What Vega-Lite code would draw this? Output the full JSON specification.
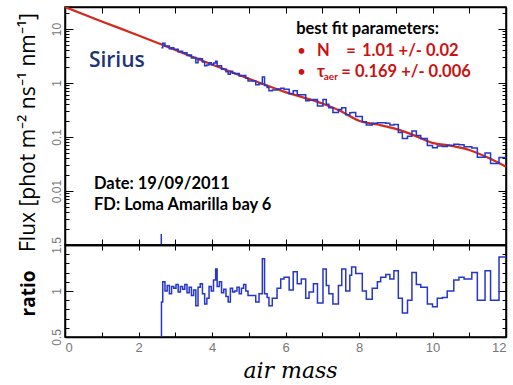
{
  "$schema": "https://vega.github.io/schema/vega-lite/v6.json",
  "padding": {"left": 16, "top": 5, "right": 4, "bottom": 2},
  "spacing": 0,
  "bounds": "flush",
  "config": {
    "view": {"stroke": "black", "strokeWidth": 1.5},
    "axis": {"domainColor": "black", "domainWidth": 1.5, "tickColor": "black", "tickWidth": 1, "grid": false, "labelColor": "#777777", "labelFont": "Liberation Sans", "titleColor": "black"}
  },
  "datasets": {
    "fit": [
      {"am": 0, "flux": 25.5}, {"am": 1, "flux": 13.8}, {"am": 2, "flux": 7.59}, {"am": 3, "flux": 4.07},
      {"am": 4, "flux": 2.19}, {"am": 5, "flux": 1.2}, {"am": 6, "flux": 0.676}, {"am": 7, "flux": 0.417},
      {"am": 7.5, "flux": 0.302}, {"am": 8, "flux": 0.2}, {"am": 8.5, "flux": 0.17}, {"am": 9, "flux": 0.141},
      {"am": 9.5, "flux": 0.107}, {"am": 10, "flux": 0.0776}, {"am": 10.5, "flux": 0.0692}, {"am": 11, "flux": 0.0575},
      {"am": 11.5, "flux": 0.0417}, {"am": 12, "flux": 0.0282}
    ],
    "obs": [
      {"am": 2.62, "flux": null, "ratio": 0.45},
      {"am": 2.625, "flux": 4.48, "ratio": 0.88},
      {"am": 2.66, "flux": 5.43, "ratio": 1.10},
      {"am": 2.72, "flux": 4.76, "ratio": 1.00},
      {"am": 2.78, "flux": 4.85, "ratio": 1.06},
      {"am": 2.84, "flux": 4.29, "ratio": 0.97},
      {"am": 2.90, "flux": 4.47, "ratio": 1.05},
      {"am": 2.96, "flux": 4.23, "ratio": 1.03},
      {"am": 3.02, "flux": 4.22, "ratio": 1.07},
      {"am": 3.08, "flux": 3.77, "ratio": 0.99},
      {"am": 3.14, "flux": 3.85, "ratio": 1.05},
      {"am": 3.20, "flux": 3.61, "ratio": 1.02},
      {"am": 3.26, "flux": 3.64, "ratio": 1.07},
      {"am": 3.32, "flux": 3.21, "ratio": 0.98},
      {"am": 3.38, "flux": 3.28, "ratio": 1.04},
      {"am": 3.44, "flux": 2.89, "ratio": 0.95},
      {"am": 3.50, "flux": 2.96, "ratio": 1.01},
      {"am": 3.56, "flux": 2.37, "ratio": 0.84},
      {"am": 3.62, "flux": 2.83, "ratio": 1.04},
      {"am": 3.68, "flux": 2.82, "ratio": 1.08},
      {"am": 3.74, "flux": 2.45, "ratio": 0.97},
      {"am": 3.80, "flux": 2.09, "ratio": 0.86},
      {"am": 3.86, "flux": 2.16, "ratio": 0.92},
      {"am": 3.92, "flux": 2.37, "ratio": 1.05},
      {"am": 3.98, "flux": 2.17, "ratio": 1.00},
      {"am": 4.04, "flux": 2.35, "ratio": 1.12},
      {"am": 4.10, "flux": 2.52, "ratio": 1.24},
      {"am": 4.14, "flux": 2.07, "ratio": 1.05},
      {"am": 4.20, "flux": 2.09, "ratio": 1.10},
      {"am": 4.26, "flux": 1.80, "ratio": 0.98},
      {"am": 4.32, "flux": 1.81, "ratio": 1.02},
      {"am": 4.38, "flux": 1.61, "ratio": 0.94},
      {"am": 4.44, "flux": 1.45, "ratio": 0.88},
      {"am": 4.50, "flux": 1.64, "ratio": 1.03},
      {"am": 4.56, "flux": 1.52, "ratio": 0.99},
      {"am": 4.62, "flux": 1.48, "ratio": 1.00},
      {"am": 4.68, "flux": 1.49, "ratio": 1.04},
      {"am": 4.74, "flux": 1.34, "ratio": 0.97},
      {"am": 4.80, "flux": 1.37, "ratio": 1.03},
      {"am": 4.86, "flux": 1.37, "ratio": 1.07},
      {"am": 4.92, "flux": 1.24, "ratio": 1.00},
      {"am": 4.98, "flux": 1.089, "ratio": 0.95},
      {"am": 5.19, "flux": 0.923, "ratio": 0.88},
      {"am": 5.28, "flux": 0.968, "ratio": 0.97},
      {"am": 5.37, "flux": 1.288, "ratio": 1.35},
      {"am": 5.43, "flux": 0.893, "ratio": 0.97},
      {"am": 5.50, "flux": 0.826, "ratio": 0.93},
      {"am": 5.55, "flux": 0.716, "ratio": 0.84},
      {"am": 5.64, "flux": 0.738, "ratio": 0.92},
      {"am": 5.77, "flux": 0.773, "ratio": 1.03},
      {"am": 5.87, "flux": 0.802, "ratio": 1.13},
      {"am": 5.96, "flux": 0.767, "ratio": 1.15},
      {"am": 6.10, "flux": 0.632, "ratio": 1.01},
      {"am": 6.21, "flux": 0.719, "ratio": 1.21},
      {"am": 6.32, "flux": 0.608, "ratio": 1.08},
      {"am": 6.43, "flux": 0.603, "ratio": 1.13},
      {"am": 6.55, "flux": 0.467, "ratio": 0.92},
      {"am": 6.64, "flux": 0.478, "ratio": 0.99},
      {"am": 6.76, "flux": 0.492, "ratio": 1.08},
      {"am": 6.87, "flux": 0.373, "ratio": 0.87},
      {"am": 7.02, "flux": 0.495, "ratio": 1.24},
      {"am": 7.11, "flux": 0.402, "ratio": 1.06},
      {"am": 7.18, "flux": 0.348, "ratio": 0.97},
      {"am": 7.29, "flux": 0.283, "ratio": 0.86},
      {"am": 7.44, "flux": 0.323, "ratio": 1.06},
      {"am": 7.53, "flux": 0.348, "ratio": 1.24},
      {"am": 7.64, "flux": 0.257, "ratio": 1.00},
      {"am": 7.75, "flux": 0.281, "ratio": 1.17},
      {"am": 7.80, "flux": 0.283, "ratio": 1.26},
      {"am": 7.91, "flux": 0.239, "ratio": 1.19},
      {"am": 8.09, "flux": 0.191, "ratio": 1.00},
      {"am": 8.20, "flux": 0.166, "ratio": 0.91},
      {"am": 8.36, "flux": 0.179, "ratio": 1.03},
      {"am": 8.50, "flux": 0.184, "ratio": 1.10},
      {"am": 8.59, "flux": 0.184, "ratio": 1.15},
      {"am": 8.73, "flux": 0.180, "ratio": 1.18},
      {"am": 8.84, "flux": 0.166, "ratio": 1.13},
      {"am": 8.95, "flux": 0.171, "ratio": 1.22},
      {"am": 9.07, "flux": 0.121, "ratio": 0.92},
      {"am": 9.18, "flux": 0.0935, "ratio": 0.76},
      {"am": 9.32, "flux": 0.103, "ratio": 0.90},
      {"am": 9.44, "flux": 0.129, "ratio": 1.20},
      {"am": 9.56, "flux": 0.106, "ratio": 1.07},
      {"am": 9.68, "flux": 0.0935, "ratio": 1.04},
      {"am": 9.86, "flux": 0.0698, "ratio": 0.86},
      {"am": 10.0, "flux": 0.0634, "ratio": 0.83},
      {"am": 10.13, "flux": 0.0682, "ratio": 0.92},
      {"am": 10.27, "flux": 0.0667, "ratio": 0.93},
      {"am": 10.40, "flux": 0.0693, "ratio": 1.00},
      {"am": 10.58, "flux": 0.0733, "ratio": 1.12},
      {"am": 10.72, "flux": 0.0716, "ratio": 1.15},
      {"am": 10.86, "flux": 0.0659, "ratio": 1.13},
      {"am": 11.07, "flux": 0.0628, "ratio": 1.20},
      {"am": 11.22, "flux": 0.0420, "ratio": 0.90},
      {"am": 11.43, "flux": 0.0506, "ratio": 1.22},
      {"am": 11.58, "flux": 0.0322, "ratio": 0.90},
      {"am": 11.81, "flux": 0.0416, "ratio": 1.37},
      {"am": 12.0, "flux": 0.0416, "ratio": 1.37}
    ],
    "drop": [{"am": 2.62, "lo": 0.001, "hi": 0.0016}],
    "sirius": [{"am": 0.65, "flux": 2.55, "text": "Sirius"}],
    "notes_black": [
      {"am": 6.29, "flux": 10.0, "text": "best fit parameters:"},
      {"am": 0.79, "flux": 0.0135, "text": "Date: 19/09/2011"},
      {"am": 0.79, "flux": 0.0055, "text": "FD: Loma Amarilla bay 6"}
    ],
    "notes_red": [
      {"am": 6.86, "flux": 3.91, "text": "N"},
      {"am": 7.65, "flux": 3.91, "text": "="},
      {"am": 8.08, "flux": 3.91, "text": "1.01 +/- 0.02"},
      {"am": 6.86, "flux": 1.6, "text": "τ"},
      {"am": 7.52, "flux": 1.6, "text": "="},
      {"am": 7.89, "flux": 1.6, "text": "0.169 +/- 0.006"}
    ],
    "bullets": [
      {"am": 6.33, "flux": 3.91, "text": "•"},
      {"am": 6.33, "flux": 1.6, "text": "•"}
    ],
    "notes_sub": [{"am": 7.04, "flux": 1.29, "text": "aer"}]
  },
  "vconcat": [
    {
      "width": 441,
      "height": 238,
      "resolve": {"axis": {"x": "independent", "y": "independent"}},
      "layer": [
        {
          "data": {"name": "fit"},
          "mark": {"type": "line", "color": "#d42a1e", "strokeWidth": 2.2, "interpolate": "monotone", "clip": true},
          "encoding": {
            "x": {"field": "am", "type": "quantitative", "scale": {"domain": [0, 12], "nice": false},
              "axis": {"orient": "bottom", "values": [0,1,2,3,4,5,6,7,8,9,10,11,12], "labels": false, "tickSize": -6, "title": null}},
            "y": {"field": "flux", "type": "quantitative", "scale": {"type": "log", "domain": [0.001, 25.5], "nice": false},
              "axis": {"orient": "left",
                "values": [0.001,0.002,0.003,0.004,0.005,0.006,0.007,0.008,0.009,0.01,0.02,0.03,0.04,0.05,0.06,0.07,0.08,0.09,0.1,0.2,0.3,0.4,0.5,0.6,0.7,0.8,0.9,1,2,3,4,5,6,7,8,9,10,20],
                "labelExpr": "datum.value == 10 ? '10' : datum.value == 1 ? '1' : datum.value == 0.1 ? '0.1' : datum.value == 0.01 ? '0.01' : ''",
                "tickSize": {"condition": {"test": "indexof([0.001,0.01,0.1,1,10], datum.value) >= 0", "value": -8}, "value": -4},
                "labelAngle": -90, "labelAlign": "center", "labelBaseline": "bottom", "labelPadding": 10, "labelFontSize": 12,
                "title": "Flux [phot m⁻² ns⁻¹ nm⁻¹]", "titleFont": "Open Sans", "titleFontSize": 21, "titleFontWeight": 500,
                "titleX": -37, "titleY": 125, "titleBaseline": "middle"}}
          }
        },
        {
          "data": {"name": "obs"},
          "mark": {"type": "line", "color": "#2536c8", "strokeWidth": 1.5, "interpolate": "step-after", "clip": true},
          "encoding": {
            "x": {"field": "am", "type": "quantitative", "axis": {"orient": "top", "values": [0,1,2,3,4,5,6,7,8,9,10,11,12], "labels": false, "tickSize": -6, "title": null}},
            "y": {"field": "flux", "type": "quantitative",
              "axis": {"orient": "right",
                "values": [0.001,0.002,0.003,0.004,0.005,0.006,0.007,0.008,0.009,0.01,0.02,0.03,0.04,0.05,0.06,0.07,0.08,0.09,0.1,0.2,0.3,0.4,0.5,0.6,0.7,0.8,0.9,1,2,3,4,5,6,7,8,9,10,20],
                "labels": false, "title": null,
                "tickSize": {"condition": {"test": "indexof([0.001,0.01,0.1,1,10], datum.value) >= 0", "value": -8}, "value": -4}}}
          }
        },
        {
          "data": {"name": "drop"},
          "mark": {"type": "rule", "color": "#2536c8", "strokeWidth": 1.5},
          "encoding": {
            "x": {"field": "am", "type": "quantitative", "axis": null},
            "y": {"field": "lo", "type": "quantitative", "axis": null},
            "y2": {"field": "hi"}
          }
        },
        {
          "data": {"name": "sirius"},
          "mark": {"type": "text", "align": "left", "baseline": "middle", "font": "Open Sans", "fontSize": 21, "fontWeight": 600, "color": "#1c3578"},
          "encoding": {
            "x": {"field": "am", "type": "quantitative", "axis": null},
            "y": {"field": "flux", "type": "quantitative", "axis": null},
            "text": {"field": "text"}
          }
        },
        {
          "data": {"name": "notes_black"},
          "mark": {"type": "text", "align": "left", "baseline": "middle", "font": "Lato", "fontSize": 16.5, "fontWeight": "bold", "color": "black"},
          "encoding": {
            "x": {"field": "am", "type": "quantitative", "axis": null},
            "y": {"field": "flux", "type": "quantitative", "axis": null},
            "text": {"field": "text"}
          }
        },
        {
          "data": {"name": "notes_red"},
          "mark": {"type": "text", "align": "left", "baseline": "middle", "font": "Lato", "fontSize": 16.5, "fontWeight": "bold", "color": "#cc1111"},
          "encoding": {
            "x": {"field": "am", "type": "quantitative", "axis": null},
            "y": {"field": "flux", "type": "quantitative", "axis": null},
            "text": {"field": "text"}
          }
        },
        {
          "data": {"name": "bullets"},
          "mark": {"type": "text", "align": "left", "baseline": "middle", "font": "Lato", "fontSize": 13, "fontWeight": "bold", "color": "#cc1111"},
          "encoding": {
            "x": {"field": "am", "type": "quantitative", "axis": null},
            "y": {"field": "flux", "type": "quantitative", "axis": null},
            "text": {"field": "text"}
          }
        },
        {
          "data": {"name": "notes_sub"},
          "mark": {"type": "text", "align": "left", "baseline": "middle", "font": "Lato", "fontSize": 10, "fontWeight": "bold", "color": "#cc1111"},
          "encoding": {
            "x": {"field": "am", "type": "quantitative", "axis": null},
            "y": {"field": "flux", "type": "quantitative", "axis": null},
            "text": {"field": "text"}
          }
        }
      ]
    },
    {
      "width": 441,
      "height": 92,
      "resolve": {"axis": {"x": "independent", "y": "independent"}},
      "layer": [
        {
          "data": {"name": "obs"},
          "mark": {"type": "line", "color": "#2536c8", "strokeWidth": 1.5, "interpolate": "step-after", "clip": true},
          "encoding": {
            "x": {"field": "am", "type": "quantitative", "scale": {"domain": [0, 12], "nice": false},
              "axis": {"orient": "bottom", "values": [0,1,2,3,4,5,6,7,8,9,10,11,12],
                "labelExpr": "datum.value % 2 == 0 ? datum.label : ''", "tickSize": -5, "labelPadding": 9, "labelFontSize": 13,
                "title": "air mass", "titleFont": "DejaVu Serif", "titleFontStyle": "italic", "titleFontWeight": "normal", "titleFontSize": 22,
                "titleX": 225, "titleY": 33, "titleBaseline": "middle", "titleAlign": "center"}},
            "y": {"field": "ratio", "type": "quantitative", "scale": {"domain": [0.5, 1.5], "nice": false, "zero": false},
              "axis": {"orient": "left", "values": [0.5,0.6,0.7,0.8,0.9,1,1.1,1.2,1.3,1.4,1.5],
                "labelExpr": "datum.value == 0.5 ? '0.5' : datum.value == 1 ? '1' : datum.value == 1.5 ? '1.5' : ''",
                "tickSize": {"condition": {"test": "indexof([0.5,1,1.5], datum.value) >= 0", "value": -8}, "value": -4},
                "labelAngle": -90, "labelAlign": "center", "labelBaseline": "bottom", "labelPadding": 10, "labelFontSize": 12,
                "title": "ratio", "titleFont": "Open Sans", "titleFontSize": 19, "titleFontWeight": "bold",
                "titleX": -37, "titleY": 48, "titleBaseline": "middle"}}
          }
        },
        {
          "mark": {"type": "rule", "color": "black", "strokeWidth": 1.2, "strokeDash": [9, 6]},
          "encoding": {
            "x": {"datum": 0, "type": "quantitative", "axis": {"orient": "top", "values": [0,1,2,3,4,5,6,7,8,9,10,11,12], "labels": false, "tickSize": -5, "title": null}},
            "x2": {"datum": 12},
            "y": {"datum": 1, "type": "quantitative",
              "axis": {"orient": "right", "values": [0.5,0.6,0.7,0.8,0.9,1,1.1,1.2,1.3,1.4,1.5], "labels": false, "title": null,
                "tickSize": {"condition": {"test": "indexof([0.5,1,1.5], datum.value) >= 0", "value": -8}, "value": -4}}}
          }
        }
      ]
    }
  ]
}
